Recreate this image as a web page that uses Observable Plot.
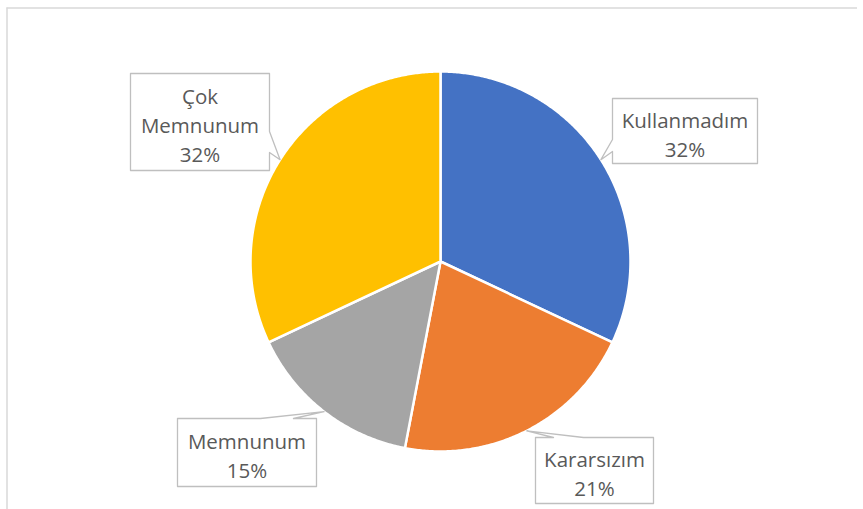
<!DOCTYPE html>
<html>
<head>
<meta charset="utf-8">
<script src="https://cdn.jsdelivr.net/npm/d3@7"></script>
<script src="https://cdn.jsdelivr.net/npm/@observablehq/plot@0.6"></script>
<style>
  html, body { margin: 0; padding: 0; background: #fff; }
  #chart svg { display: block; }
</style>
</head>
<body>
<div id="chart"></div>
<script>
// ---- data ----
const categories = ["Kullanmadım", "Kararsızım", "Memnunum", "Çok Memnunum"];
const values = [32, 21, 15, 32];
const colors = ["#4472C4", "#ED7D31", "#A5A5A5", "#FFC000"];

// ---- layout (chart units: pie centre at 0,0, y up, radius R) ----
const W = 863, H = 509;
const R = 190;
const cx = 440, cy = 261; // pie centre in the window
// callout boxes: centre, size, side of pointer and base interval on that side
const callouts = [
  {cx: 244.5, cy: 130.5, w: 145, h: 65, side: "left",  a: 110, b: 122},
  {cx: 154,   cy: -209,  w: 118, h: 66, side: "top",   a: 113, b: 143},
  {cx: -193.5,cy: -191,  w: 139, h: 68, side: "top",   a: -180, b: -147},
  {cx: -240.5,cy: 139.5, w: 139, h: 97, side: "right", a: 109, b: 130}
];

const arcs = d3.pie().sort(null).value(d => d)(values);

// slice outlines as polygons (from the centre round the arc and back)
const slicePts = [];
arcs.forEach((a, i) => {
  const n = Math.max(2, Math.ceil((a.endAngle - a.startAngle) / (Math.PI / 360)));
  slicePts.push({k: i, x: 0, y: 0});
  for (let j = 0; j <= n; j++) {
    const t = a.startAngle + (a.endAngle - a.startAngle) * j / n;
    slicePts.push({k: i, x: R * Math.sin(t), y: R * Math.cos(t)});
  }
  slicePts.push({k: i, x: 0, y: 0});
});

// callout shapes: box with pointer whose tip sits on the slice edge at mid-angle
const calloutPts = [];
const labelPts = [];
arcs.forEach((a, i) => {
  const c = callouts[i];
  const mid = (a.startAngle + a.endAngle) / 2;
  const tip = {x: R * Math.sin(mid), y: R * Math.cos(mid)};
  const L = c.cx - c.w / 2, Rr = c.cx + c.w / 2, T = c.cy + c.h / 2, B = c.cy - c.h / 2;
  let p = [];
  p.push([L, T]);
  if (c.side === "top") p.push([c.a, T], [tip.x, tip.y], [c.b, T]);
  p.push([Rr, T]);
  if (c.side === "right") p.push([Rr, c.b], [tip.x, tip.y], [Rr, c.a]);
  p.push([Rr, B], [L, B]);
  if (c.side === "left") p.push([L, c.a], [tip.x, tip.y], [L, c.b]);
  p.push([L, T]);
  p.forEach(([x, y]) => calloutPts.push({k: i, x, y}));
  labelPts.push({x: c.cx, y: c.cy, text: categories[i].replace(" ", "\n") + "\n" + values[i] + "%"});
});

const plot = Plot.plot({
  width: W,
  height: H,
  margin: 0,
  x: {domain: [-cx, W - cx], range: [0, W], axis: null},
  y: {domain: [cy - H, cy], range: [H, 0], axis: null},
  style: {background: "#fff"},
  marks: [
    // chart-area border (top and left edges visible)
    Plot.ruleY([cy - 7.5], {x1: 6.5 - cx, x2: 857 - cx, stroke: "#d9d9d9", strokeWidth: 1.5}),
    Plot.ruleX([6.5 - cx], {y1: cy - 7.5, y2: cy - 520, stroke: "#d9d9d9", strokeWidth: 1.5}),
    Plot.line(slicePts, {
      x: "x", y: "y", z: "k", fill: d => colors[d.k], stroke: "#fff", strokeWidth: 2.5,
      strokeLinejoin: "round", curve: "linear"
    }),
    Plot.line(calloutPts, {
      x: "x", y: "y", z: "k", fill: "#fff", stroke: "#bfbfbf", strokeWidth: 1.3, curve: "linear"
    }),
    Plot.text(labelPts, {
      x: "x", y: "y", text: "text", dy: 2, lineAnchor: "middle", lineHeight: 1.42,
      fontSize: 20.5, fontFamily: "Open Sans", fill: "#595959"
    })
  ]
});
document.getElementById("chart").appendChild(plot);
</script>
</body>
</html>
